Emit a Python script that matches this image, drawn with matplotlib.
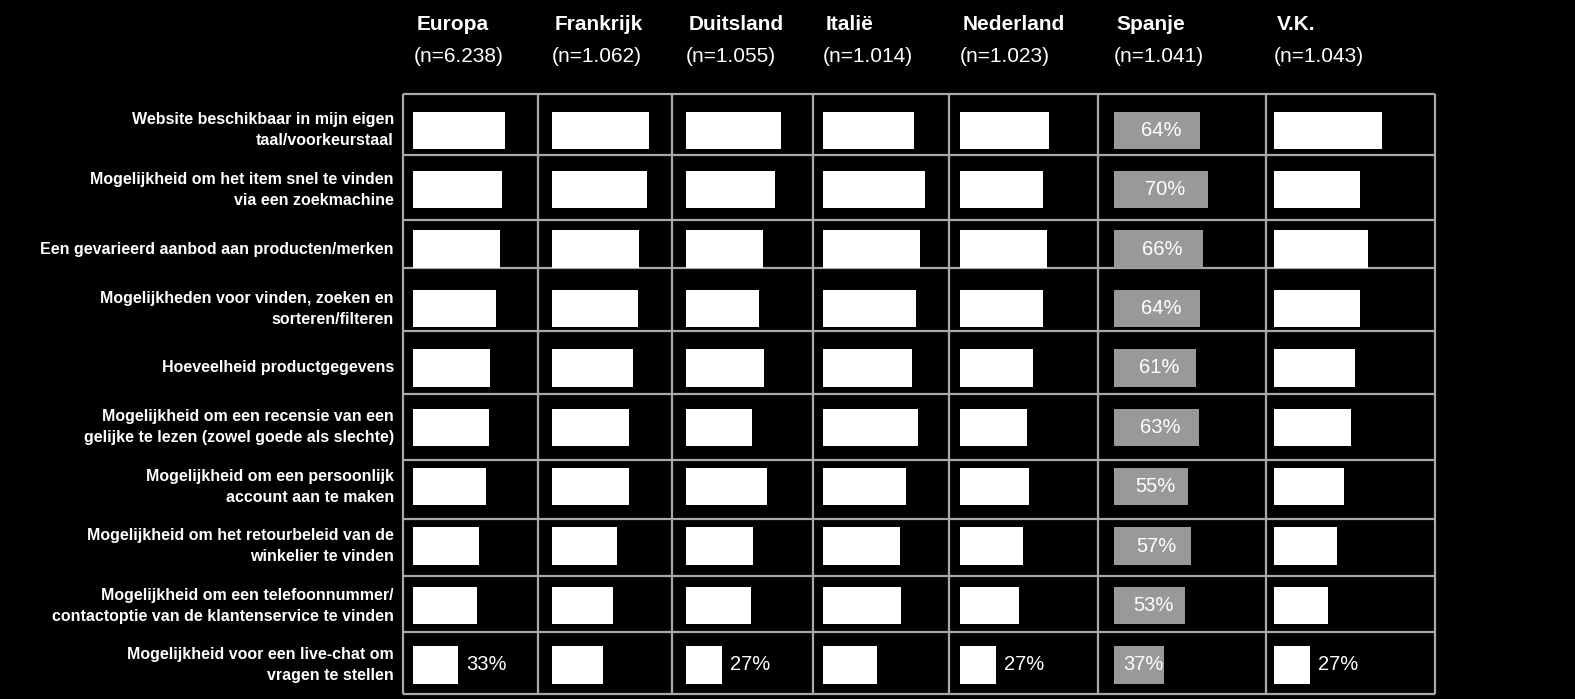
import matplotlib
matplotlib.use('Agg')
import matplotlib.pyplot as plt
from matplotlib.transforms import blended_transform_factory

# ---------------- data ----------------
categories = [
    "Website beschikbaar in mijn eigen\ntaal/voorkeurstaal",
    "Mogelijkheid om het item snel te vinden\nvia een zoekmachine",
    "Een gevarieerd aanbod aan producten/merken",
    "Mogelijkheden voor vinden, zoeken en\nsorteren/filteren",
    "Hoeveelheid productgegevens",
    "Mogelijkheid om een recensie van een\ngelijke te lezen (zowel goede als slechte)",
    "Mogelijkheid om een persoonlijk\naccount aan te maken",
    "Mogelijkheid om het retourbeleid van de\nwinkelier te vinden",
    "Mogelijkheid om een telefoonnummer/\ncontactoptie van de klantenservice te vinden",
    "Mogelijkheid voor een live-chat om\nvragen te stellen",
]
countries = ["Europa", "Frankrijk", "Duitsland", "Italië", "Nederland", "Spanje", "V.K."]
sample_sizes = ["(n=6.238)", "(n=1.062)", "(n=1.055)", "(n=1.014)", "(n=1.023)", "(n=1.041)", "(n=1.043)"]

europa    = [68, 66, 64, 61, 57, 56, 54, 49, 47, 33]
frankrijk = [72, 71, 65, 64, 60, 57, 57, 48, 45, 38]
duitsland = [71, 66, 57, 54, 58, 49, 60, 50, 48, 27]
italie    = [68, 76, 72, 69, 66, 71, 62, 57, 58, 40]
nederland = [66, 62, 65, 62, 54, 50, 51, 47, 44, 27]
spanje    = [64, 70, 66, 64, 61, 63, 55, 57, 53, 37]
vk        = [80, 64, 70, 64, 60, 57, 52, 47, 40, 27]
series = [europa, frankrijk, duitsland, italie, nederland, spanje, vk]

highlight = "Spanje"                       # column with visible inside labels
outside_label_cols = ["Europa", "Duitsland", "Nederland", "V.K."]  # last-row labels

# ---------------- layout ----------------
W, H = 1575, 699
fig = plt.figure(figsize=(W / 100, H / 100), dpi=100, facecolor='black')

FONT = ['Liberation Sans', 'DejaVu Sans']

bg = fig.add_axes([0, 0, 1, 1])
bg.set_xlim(0, W)
bg.set_ylim(H, 0)
bg.axis('off')
bg.set_facecolor('black')

# table frame (layout only)
vlines = [402.7, 538, 672.3, 812.5, 949, 1097.5, 1266, 1435.3]
hlines = [94, 155, 220, 268.3, 331, 393.7, 460.3, 519, 575.7, 631.7, 694]
grid_col = '#a8a8a8'
for x in vlines:
    bg.plot([x, x], [hlines[0], hlines[-1]], color=grid_col, lw=1.6, solid_capstyle='butt')
for y in hlines:
    bg.plot([vlines[0], vlines[-1]], [y, y], color=grid_col, lw=1.6, solid_capstyle='butt')

bar_starts = [413.5, 552, 686, 823, 960, 1114, 1274]
px_per_pct = 1.345
y_top, y_bot = 100.6, 694.7
n = len(categories)

axes = []
for ci, (name, vals) in enumerate(zip(countries, series)):
    ax = fig.add_axes([bar_starts[ci] / W, 1 - y_bot / H,
                       100 * px_per_pct / W, (y_bot - y_top) / H])
    ax.set_xlim(0, 100)
    ax.set_ylim(n - 0.5, -0.5)
    ax.axis('off')
    ax.patch.set_alpha(0)
    color = '#999999' if name == highlight else 'white'
    ax.barh(range(n), vals, height=0.63, color=color, edgecolor='none')
    if name == highlight:
        for i, v in enumerate(vals):
            ax.text(v / 2 + 3, i, f"{v}%", ha='center', va='center', color='white',
                    fontsize=14.5, family=FONT)
    if name in outside_label_cols:
        v = vals[-1]
        ax.text(v + 6, n - 1, f"{v}%", ha='left', va='center', color='white',
                fontsize=14.5, family=FONT, clip_on=False)
    # headers
    tr = blended_transform_factory(ax.transAxes, fig.transFigure)
    ax.text(0.02, 1 - 25 / H, name, transform=tr, ha='left', va='center', color='white',
            fontsize=15, fontweight='bold', family=FONT)
    ax.text(0.0, 1 - 56 / H, sample_sizes[ci], transform=tr, ha='left', va='center',
            color='white', fontsize=15, family=FONT)
    axes.append(ax)

# row labels
tr0 = blended_transform_factory(fig.transFigure, axes[0].transData)
for i, lab in enumerate(categories):
    axes[0].text(394 / W, i, lab, transform=tr0, ha='right', va='center', color='white',
                 fontsize=11.5, fontweight='bold', family=FONT, linespacing=1.5,
                 clip_on=False)

fig.savefig('out.png', dpi=100, facecolor='black')
